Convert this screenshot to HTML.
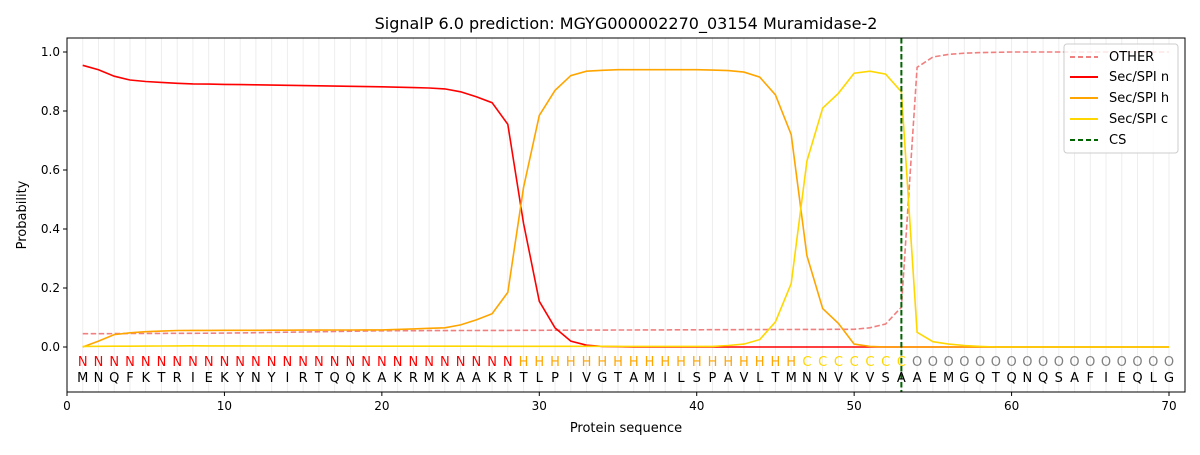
<!DOCTYPE html><html><head><style>body{margin:0;background:#fff}svg{font-family:"DejaVu Sans","Liberation Sans",sans-serif}</style></head><body>
<svg id="s" width="1200" height="450" xmlns="http://www.w3.org/2000/svg">
<rect width="1200" height="450" fill="#fff"/>
<text x="626" y="29" font-size="16" text-anchor="middle">SignalP 6.0 prediction: MGYG000002270_03154 Muramidase-2</text>
<g id="g"></g>
<rect x="67" y="38" width="1118" height="354" fill="none" stroke="#000" stroke-width="1"/>
<text x="626" y="432" font-size="13" text-anchor="middle">Protein sequence</text>
<text x="26" y="215" font-size="13" text-anchor="middle" transform="rotate(-90 26 215)">Probability</text>
<g transform="translate(1064,44)">
<rect x="0" y="0" width="114" height="109" rx="3" fill="#fff" fill-opacity="0.8" stroke="#ccc"/>
<line x1="6" y1="13" x2="34" y2="13" stroke="#f08080" stroke-width="2" stroke-dasharray="5,3"/><text x="45" y="17" font-size="13">OTHER</text>
<line x1="6" y1="33" x2="34" y2="33" stroke="#ff0000" stroke-width="2"/><text x="45" y="37" font-size="13">Sec/SPI n</text>
<line x1="6" y1="54" x2="34" y2="54" stroke="#ffa500" stroke-width="2"/><text x="45" y="58" font-size="13">Sec/SPI h</text>
<line x1="6" y1="75" x2="34" y2="75" stroke="#ffd700" stroke-width="2"/><text x="45" y="79" font-size="13">Sec/SPI c</text>
<line x1="6" y1="96" x2="34" y2="96" stroke="#006400" stroke-width="2" stroke-dasharray="5,3"/><text x="45" y="100" font-size="13">CS</text>
</g>
</svg>
<script>
const X=v=>67+v*15.743,Y=v=>347-v*295;
const g=document.getElementById('g');let h='';
for(let i=1;i<=70;i++)h+=`<line x1="${X(i)}" y1="38" x2="${X(i)}" y2="392" stroke="#000" stroke-opacity="0.07"/>`;
for(let t=0;t<=70;t+=10)h+=`<line x1="${X(t)}" y1="392" x2="${X(t)}" y2="396" stroke="#000"/><text x="${X(t)}" y="410" font-size="12" text-anchor="middle">${t}</text>`;
for(let t=0;t<=5;t++){let v=t*0.2;h+=`<line x1="63" y1="${Y(v)}" x2="67" y2="${Y(v)}" stroke="#000"/><text x="60" y="${Y(v)+4}" font-size="12" text-anchor="end">${v.toFixed(1)}</text>`;}
function fill(m,n){let a=[];let k=Object.keys(m).map(Number).sort((a,b)=>a-b);for(let i=1;i<=70;i++){let j=k.findIndex(x=>x>=i);let v;if(k[j]==i)v=m[i];else if(j<0)v=m[k[k.length-1]];else{let a0=k[j-1],a1=k[j];v=m[a0]+(m[a1]-m[a0])*(i-a0)/(a1-a0);}a.push(v);}return a;}
const O=fill({1:.045,10:.047,20:.055,50:.06,51:.065,52:.078,53:.135,54:.948,55:.983,56:.992,57:.996,58:.998,59:.999,60:1,70:1});
const N=fill({1:.955,2:.94,3:.918,4:.905,5:.9,6:.897,7:.894,8:.892,20:.882,23:.878,24:.875,25:.865,26:.848,27:.828,28:.755,29:.42,30:.155,31:.065,32:.02,33:.006,34:.002,36:0,70:0});
const H=fill({1:0,2:.02,3:.042,4:.048,5:.052,6:.054,7:.056,20:.058,24:.065,25:.075,26:.092,27:.113,28:.185,29:.54,30:.785,31:.87,32:.92,33:.935,34:.938,35:.94,40:.94,42:.937,43:.932,44:.915,45:.855,46:.72,47:.31,48:.13,49:.08,50:.01,51:.002,52:0,70:0});
const C=fill({1:.002,8:.004,15:.003,40:.002,41:.002,42:.005,43:.01,44:.025,45:.085,46:.215,47:.63,48:.81,49:.86,50:.928,51:.935,52:.925,53:.865,54:.05,55:.018,56:.01,57:.005,58:.002,59:0,70:0});
const P=(a,c,d)=>`<polyline fill="none" stroke="${c}" stroke-width="1.6" ${d?'stroke-dasharray="5.5,2.5"':''} points="${a.map((v,i)=>X(i+1).toFixed(1)+','+Y(v).toFixed(1)).join(' ')}"/>`;
h+=P(O,'#f08080',1)+P(N,'#ff0000')+P(H,'#ffa500')+P(C,'#ffd700');
h+=`<line x1="${X(53)}" y1="38" x2="${X(53)}" y2="392" stroke="#006400" stroke-width="2" stroke-dasharray="5.5,2.5"/>`;
const seq="MNQFKTRIEKYNYIRTQQKAKRMKAAKRTLPIVGTAMILSPAVLTMNNVKVSAAEMGQTQNQSAFIEQLG";
for(let i=1;i<=70;i++){let l,c;if(i<=28){l='N';c='#ff0000'}else if(i<=46){l='H';c='#ffa500'}else if(i<=53){l='C';c='#ffd700'}else{l='O';c='#808080'}
h+=`<text x="${X(i)}" y="366" font-size="13" fill="${c}" text-anchor="middle">${l}</text><text x="${X(i)}" y="382" font-size="13" text-anchor="middle">${seq[i-1]}</text>`;}
g.innerHTML=h;
</script>
</body></html>
